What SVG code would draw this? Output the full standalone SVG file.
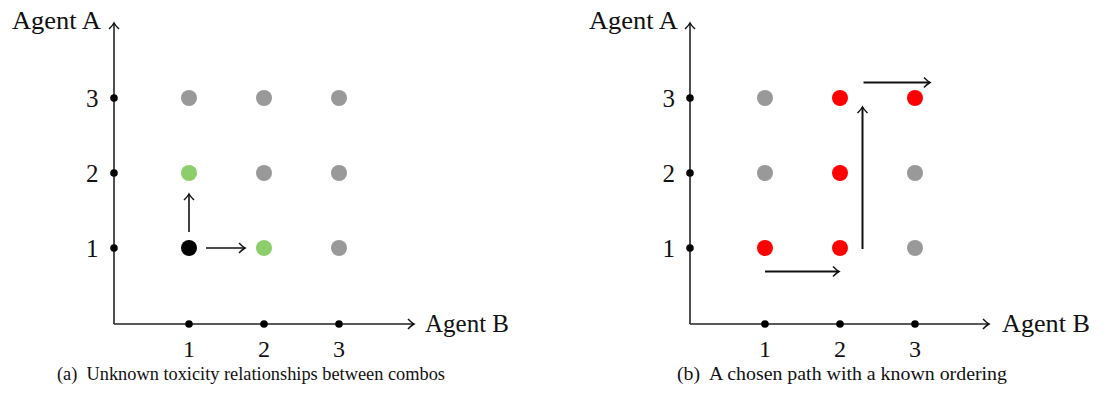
<svg xmlns="http://www.w3.org/2000/svg" width="1106" height="395" viewBox="0 0 1106 395">
<style>
text{font-family:"Liberation Serif","Times New Roman",serif;fill:#111}
.lbl{font-size:26px}
.num{font-size:25px}
.xnum{font-size:24px}
.cap{font-size:18px;white-space:pre}
.axis{stroke:#222;stroke-width:1.6;fill:none}
.arr{stroke:#111;stroke-width:1.6;fill:none}
.arrb{stroke:#111;stroke-width:2;fill:none}
.tick{fill:#000}
.gray{fill:#999}
.green{fill:#8cce6c}
.red{fill:#f00}
.black{fill:#000}
</style>
<defs>
<marker id="head" markerUnits="userSpaceOnUse" markerWidth="16" markerHeight="16" refX="0" refY="0" viewBox="-10 -8 12 16" orient="auto">
<path d="M-6,-5 Q-2,-1 0,0 Q-2,1 -6,5" fill="none" stroke="#111" stroke-width="1.5"/>
</marker>
</defs>
<rect width="1106" height="395" fill="#fff"/>

<g id="panel-a">
<g id="axes-a">
<path class="axis" d="M114,324 V23" marker-end="url(#head)"/>
<path class="axis" d="M114,324 H414" marker-end="url(#head)"/>
<text class="lbl" x="12" y="29" textLength="89" lengthAdjust="spacingAndGlyphs">Agent A</text>
<text class="lbl" x="425" y="332" textLength="84" lengthAdjust="spacingAndGlyphs">Agent B</text>
<circle class="tick" cx="114" cy="98" r="3.8"/>
<circle class="tick" cx="114" cy="173" r="3.8"/>
<circle class="tick" cx="114" cy="248" r="3.8"/>
<circle class="tick" cx="189" cy="324" r="3.8"/>
<circle class="tick" cx="264" cy="324" r="3.8"/>
<circle class="tick" cx="339" cy="324" r="3.8"/>
<text class="num" x="98.5" y="107" text-anchor="end">3</text>
<text class="num" x="98.5" y="182" text-anchor="end">2</text>
<text class="num" x="98.5" y="257" text-anchor="end">1</text>
<text class="xnum" x="189" y="357" text-anchor="middle">1</text>
<text class="xnum" x="264" y="357" text-anchor="middle">2</text>
<text class="xnum" x="339" y="357" text-anchor="middle">3</text>
</g>
<g id="nodes-a">
<circle id="a-1-3" class="gray" cx="189" cy="98" r="8"/>
<circle id="a-2-3" class="gray" cx="264" cy="98" r="8"/>
<circle id="a-3-3" class="gray" cx="339" cy="98" r="8"/>
<circle id="a-1-2" class="green" cx="189" cy="173" r="8"/>
<circle id="a-2-2" class="gray" cx="264" cy="173" r="8"/>
<circle id="a-3-2" class="gray" cx="339" cy="173" r="8"/>
<circle id="a-1-1" class="black" cx="189" cy="248" r="8"/>
<circle id="a-2-1" class="green" cx="264" cy="248" r="8"/>
<circle id="a-3-1" class="gray" cx="339" cy="248" r="8"/>
</g>
<g id="connectors-a">
<path class="arr" d="M189,232 V194" marker-end="url(#head)"/>
<path class="arr" d="M206,248 H245" marker-end="url(#head)"/>
</g>
<text class="cap" x="57" y="380" textLength="388" lengthAdjust="spacingAndGlyphs" xml:space="preserve">(a)  Unknown toxicity relationships between combos</text>
</g>

<g id="panel-b">
<g id="axes-b">
<path class="axis" d="M690,324 V23" marker-end="url(#head)"/>
<path class="axis" d="M690,324 H989" marker-end="url(#head)"/>
<text class="lbl" x="589" y="29" textLength="89" lengthAdjust="spacingAndGlyphs">Agent A</text>
<text class="lbl" x="1002" y="332" textLength="88" lengthAdjust="spacingAndGlyphs">Agent B</text>
<circle class="tick" cx="690" cy="98" r="3.8"/>
<circle class="tick" cx="690" cy="173" r="3.8"/>
<circle class="tick" cx="690" cy="248" r="3.8"/>
<circle class="tick" cx="765" cy="324" r="3.8"/>
<circle class="tick" cx="840" cy="324" r="3.8"/>
<circle class="tick" cx="915" cy="324" r="3.8"/>
<text class="num" x="675" y="107" text-anchor="end">3</text>
<text class="num" x="675" y="182" text-anchor="end">2</text>
<text class="num" x="675" y="257" text-anchor="end">1</text>
<text class="xnum" x="765" y="357" text-anchor="middle">1</text>
<text class="xnum" x="840" y="357" text-anchor="middle">2</text>
<text class="xnum" x="915" y="357" text-anchor="middle">3</text>
</g>
<g id="nodes-b">
<circle id="b-1-3" class="gray" cx="765" cy="98" r="8"/>
<circle id="b-2-3" class="red" cx="840" cy="98" r="8"/>
<circle id="b-3-3" class="red" cx="915" cy="98" r="8"/>
<circle id="b-1-2" class="gray" cx="765" cy="173" r="8"/>
<circle id="b-2-2" class="red" cx="840" cy="173" r="8"/>
<circle id="b-3-2" class="gray" cx="915" cy="173" r="8"/>
<circle id="b-1-1" class="red" cx="765" cy="248" r="8"/>
<circle id="b-2-1" class="red" cx="840" cy="248" r="8"/>
<circle id="b-3-1" class="gray" cx="915" cy="248" r="8"/>
</g>
<g id="connectors-b">
<path class="arrb" d="M765,271.5 H839" marker-end="url(#head)"/>
<path class="arrb" d="M862.5,249 V107" marker-end="url(#head)"/>
<path class="arrb" d="M863.5,82.5 H930" marker-end="url(#head)"/>
</g>
<text class="cap" x="677" y="380" textLength="330" lengthAdjust="spacingAndGlyphs" xml:space="preserve">(b)  A chosen path with a known ordering</text>
</g>
</svg>
